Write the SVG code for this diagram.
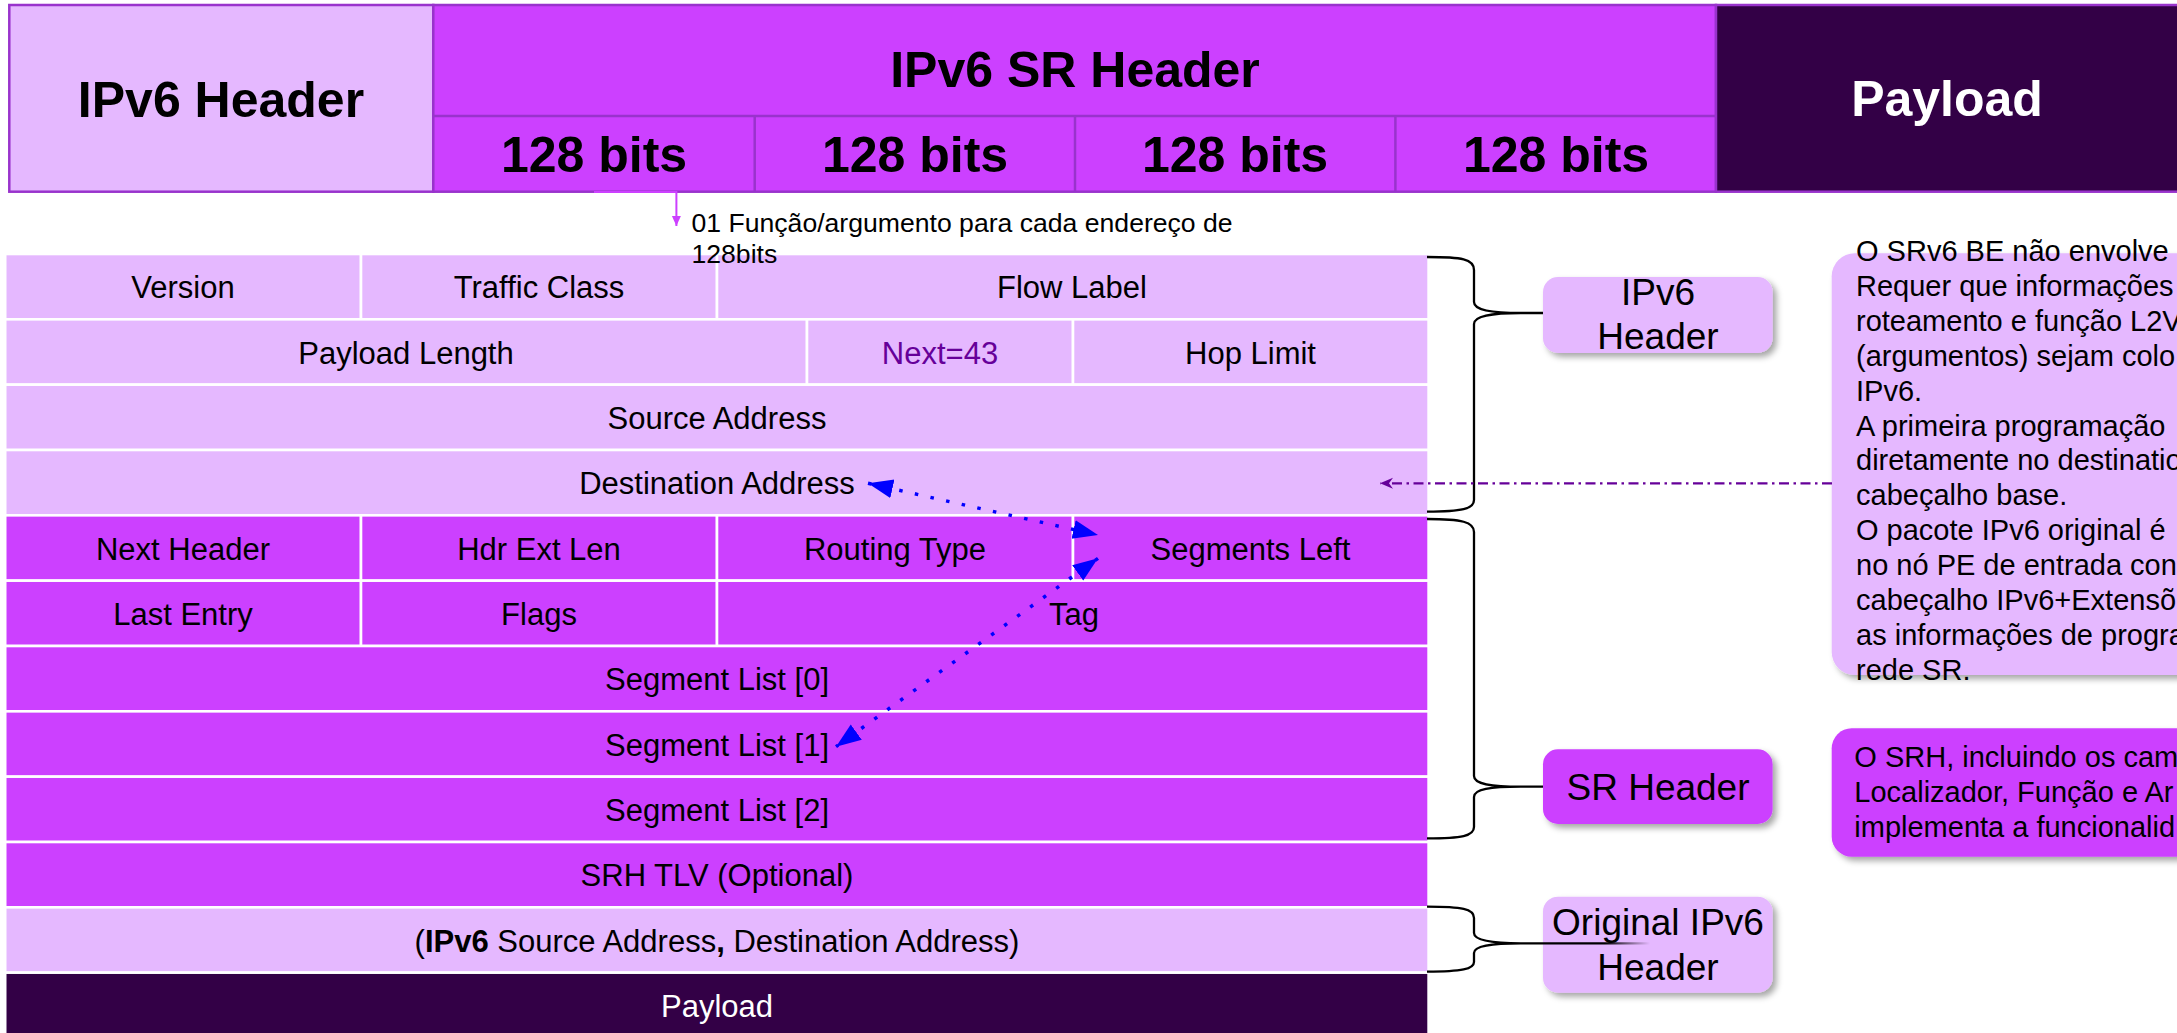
<svg xmlns="http://www.w3.org/2000/svg" width="2177" height="1033" viewBox="0 0 2177 1033">
  <defs>
    <style>
      text { font-family: "Liberation Sans", Arial, sans-serif; }
      .hd { font-size: 50px; font-weight: bold; text-anchor: middle; fill: #000; }
      .cell { stroke: #fff; stroke-width: 2.6; }
      .lt { fill: #E5B8FF; }
      .mg { fill: #CC40FF; }
      .dk { fill: #330046; }
      .ft { font-size: 31px; text-anchor: middle; fill: #000; }
      .lbl { font-size: 37px; text-anchor: middle; fill: #000; }
      .note { font-size: 29px; fill: #000; }
      .brace { fill: none; stroke: #000; stroke-width: 2.3; }
      .frame { stroke: #9933CC; stroke-width: 2.5; }
      .blue { fill: none; stroke: #0000FF; stroke-width: 3.5; stroke-dasharray: 3.5 12.5; }
    </style>
    <filter id="shadow" x="-10%" y="-10%" width="130%" height="140%">
      <feDropShadow dx="4" dy="4" stdDeviation="3" flood-color="#000" flood-opacity="0.35"/>
    </filter>
    <marker id="blueHead" markerUnits="userSpaceOnUse" markerWidth="26" markerHeight="20" refX="25" refY="9.5" orient="auto-start-reverse">
      <path d="M0,0 L25,9.5 L0,19 Z" fill="#0000FF"/>
    </marker>
    <marker id="purpleHead" markerUnits="userSpaceOnUse" markerWidth="14" markerHeight="12" refX="13" refY="5.5" orient="auto">
      <path d="M0,0 L13,5.5 L0,11 L4,5.5 Z" fill="#660099"/>
    </marker>
    <marker id="magentaHead" markerUnits="userSpaceOnUse" markerWidth="10" markerHeight="10" refX="10" refY="4.5" orient="auto">
      <path d="M0,0 L10,4.5 L0,9 Z" fill="#CC40FF"/>
    </marker>
    <linearGradient id="fadeLine" gradientUnits="userSpaceOnUse" x1="1521" y1="0" x2="1650" y2="0">
      <stop offset="0" stop-color="#000"/>
      <stop offset="0.65" stop-color="#000"/>
      <stop offset="1" stop-color="#000" stop-opacity="0"/>
    </linearGradient>
  </defs>

  <rect width="2177" height="1033" fill="#fff"/>

  <!-- Packet overview bar -->
  <g id="bar-ipv6-header">
    <rect class="frame lt" x="9.3" y="5" width="424" height="186.7"/>
    <text class="hd" x="221" y="117">IPv6 Header</text>
  </g>
  <g id="bar-srh">
    <rect class="frame mg" x="433.3" y="5" width="1282.7" height="186.7"/>
    <line class="frame" x1="433.3" y1="116" x2="1716" y2="116"/>
    <line class="frame" x1="754.7" y1="116" x2="754.7" y2="191.7"/>
    <line class="frame" x1="1075" y1="116" x2="1075" y2="191.7"/>
    <line class="frame" x1="1395.4" y1="116" x2="1395.4" y2="191.7"/>
    <text class="hd" x="1075" y="87">IPv6 SR Header</text>
    <text class="hd" x="594" y="172">128 bits</text>
    <text class="hd" x="915" y="172">128 bits</text>
    <text class="hd" x="1235" y="172">128 bits</text>
    <text class="hd" x="1556" y="172">128 bits</text>
  </g>
  <g id="bar-payload">
    <rect class="frame dk" x="1716" y="5" width="470" height="186.7"/>
    <text class="hd" x="1947" y="116" style="fill:#fff">Payload</text>
  </g>

  <!-- Header layout table -->
  <g id="row-0">
    <rect class="cell lt" x="5.2" y="254" width="355.8" height="65.33"/>
    <rect class="cell lt" x="361" y="254" width="356" height="65.33"/>
    <rect class="cell lt" x="717" y="254" width="711.6" height="65.33"/>
    <text class="ft" x="183" y="298.2">Version</text>
    <text class="ft" x="539" y="298.2">Traffic Class</text>
    <text class="ft" x="1072" y="298.2">Flow Label</text>
  </g>
  <g id="row-1">
    <rect class="cell lt" x="5.2" y="319.33" width="801.8" height="65.33"/>
    <rect class="cell lt" x="807" y="319.33" width="266" height="65.33"/>
    <rect class="cell lt" x="1073" y="319.33" width="355.6" height="65.33"/>
    <text class="ft" x="406" y="363.5">Payload Length</text>
    <text class="ft" x="940" y="363.5" style="fill:#660099">Next=43</text>
    <text class="ft" x="1250.5" y="363.5">Hop Limit</text>
  </g>
  <g id="row-2">
    <rect class="cell lt" x="5.2" y="384.67" width="1423.4" height="65.33"/>
    <text class="ft" x="717" y="428.9">Source Address</text>
  </g>
  <g id="row-3">
    <rect class="cell lt" x="5.2" y="450" width="1423.4" height="65.33"/>
    <text class="ft" x="717" y="494.2">Destination Address</text>
  </g>
  <g id="row-4">
    <rect class="cell mg" x="5.2" y="515.33" width="355.8" height="65.33"/>
    <rect class="cell mg" x="361" y="515.33" width="356" height="65.33"/>
    <rect class="cell mg" x="717" y="515.33" width="356" height="65.33"/>
    <rect class="cell mg" x="1073" y="515.33" width="355.6" height="65.33"/>
    <text class="ft" x="183" y="559.5">Next Header</text>
    <text class="ft" x="539" y="559.5">Hdr Ext Len</text>
    <text class="ft" x="895" y="559.5">Routing Type</text>
    <text class="ft" x="1250.5" y="559.5">Segments Left</text>
  </g>
  <g id="row-5">
    <rect class="cell mg" x="5.2" y="580.67" width="355.8" height="65.33"/>
    <rect class="cell mg" x="361" y="580.67" width="356" height="65.33"/>
    <rect class="cell mg" x="717" y="580.67" width="711.6" height="65.33"/>
    <text class="ft" x="183" y="624.9">Last Entry</text>
    <text class="ft" x="539" y="624.9">Flags</text>
    <text class="ft" x="1074" y="624.9">Tag</text>
  </g>
  <g id="row-6">
    <rect class="cell mg" x="5.2" y="646" width="1423.4" height="65.33"/>
    <text class="ft" x="717" y="690.2">Segment List [0]</text>
  </g>
  <g id="row-7">
    <rect class="cell mg" x="5.2" y="711.33" width="1423.4" height="65.33"/>
    <text class="ft" x="717" y="755.5">Segment List [1]</text>
  </g>
  <g id="row-8">
    <rect class="cell mg" x="5.2" y="776.67" width="1423.4" height="65.33"/>
    <text class="ft" x="717" y="820.8">Segment List [2]</text>
  </g>
  <g id="row-9">
    <rect class="cell mg" x="5.2" y="842" width="1423.4" height="65.33"/>
    <text class="ft" x="717" y="886.2">SRH TLV (Optional)</text>
  </g>
  <g id="row-10">
    <rect class="cell lt" x="5.2" y="907.33" width="1423.4" height="65.33"/>
    <text class="ft" x="717" y="951.5">(<tspan font-weight="bold">IPv6</tspan> Source Address<tspan font-weight="bold">,</tspan> Destination Address)</text>
  </g>
  <g id="row-11">
    <rect class="cell dk" x="5.2" y="972.67" width="1423.4" height="65.33"/>
    <text class="ft" x="717" y="1016.8" style="fill:#fff">Payload</text>
  </g>

  <!-- Note under the 128-bit blocks -->
  <g id="note-128bits">
    <text x="691.5" y="231.5" font-size="26.6">01 Função/argumento para cada endereço de</text>
    <text x="691.5" y="262.5" font-size="26.6">128bits</text>
  </g>

  <!-- Section labels -->
  <g id="label-ipv6-header">
    <rect x="1543" y="277" width="229.6" height="76" rx="15" class="lt" filter="url(#shadow)"/>
    <text class="lbl" x="1658" y="305">IPv6</text>
    <text class="lbl" x="1658" y="349">Header</text>
  </g>
  <g id="label-sr-header">
    <rect x="1543" y="749.3" width="229.6" height="74.7" rx="15" class="mg" filter="url(#shadow)"/>
    <text class="lbl" x="1658" y="800">SR Header</text>
  </g>
  <g id="label-original-header">
    <rect x="1543" y="896.7" width="229.6" height="96" rx="15" class="lt" filter="url(#shadow)"/>
    <text class="lbl" x="1658" y="935">Original IPv6</text>
    <text class="lbl" x="1658" y="980">Header</text>
  </g>

  <!-- Explanation boxes -->
  <g id="note-srv6-be">
    <rect x="1831.7" y="253.3" width="400" height="421.7" rx="23" class="lt" filter="url(#shadow)"/>
    <text class="note" x="1856" y="261">O SRv6 BE não envolve</text>
    <text class="note" x="1856" y="295.9">Requer que informações</text>
    <text class="note" x="1856" y="330.8">roteamento e função L2V</text>
    <text class="note" x="1856" y="365.7">(argumentos) sejam colo</text>
    <text class="note" x="1856" y="400.6">IPv6.</text>
    <text class="note" x="1856" y="435.5">A primeira programação</text>
    <text class="note" x="1856" y="470.4">diretamente no destinatio</text>
    <text class="note" x="1856" y="505.3">cabeçalho base.</text>
    <text class="note" x="1856" y="540.2">O pacote IPv6 original é</text>
    <text class="note" x="1856" y="575.1">no nó PE de entrada con</text>
    <text class="note" x="1856" y="610">cabeçalho IPv6+Extensõ</text>
    <text class="note" x="1856" y="644.9">as informações de progra</text>
    <text class="note" x="1856" y="679.8">rede SR.</text>
  </g>
  <g id="note-srh">
    <rect x="1831.7" y="728.3" width="400" height="128.4" rx="20" class="mg" filter="url(#shadow)"/>
    <text class="note" x="1854.3" y="766.7">O SRH, incluindo os cam</text>
    <text class="note" x="1854.3" y="801.7">Localizador, Função e Ar</text>
    <text class="note" x="1854.3" y="836.7">implementa a funcionalid</text>
  </g>

  <!-- Connectors: braces, pointers and arrows -->
  <g id="connectors">
    <path class="brace" d="M1427,257 C1462,257 1474,259 1474,270 L1474,302 C1474,310 1490,313 1521,313 L1543,313 M1521,313 C1490,313 1474,316 1474,324 L1474,500 C1474,509 1462,511.7 1427,511.7"/>
    <path class="brace" d="M1427,519 C1462,519 1474,522 1474,532 L1474,776 C1474,784 1490,786.7 1521,786.7 L1543,786.7 M1521,786.7 C1490,786.7 1474,789 1474,797 L1474,827 C1474,836 1462,838.3 1427,838.3"/>
    <path class="brace" d="M1427,906.7 C1462,906.7 1474,909 1474,918 L1474,933 C1474,940 1490,943.3 1521,943.3 M1521,943.3 C1490,943.3 1474,946 1474,953 L1474,962 C1474,969 1462,971.7 1427,971.7"/>
    <line x1="1521" y1="943.3" x2="1650" y2="943.3" stroke="url(#fadeLine)" stroke-width="2.3"/>

    <path d="M594,192 H676.4 V226" fill="none" stroke="#CC40FF" stroke-width="2" marker-end="url(#magentaHead)"/>

    <path d="M1832,483.3 L1380,483.3" fill="none" stroke="#660099" stroke-width="2.2" stroke-dasharray="10 4.5 2.5 4.5" marker-end="url(#purpleHead)"/>

    <path class="blue" d="M868,483.3 L1098,535" marker-start="url(#blueHead)" marker-end="url(#blueHead)"/>
    <path class="blue" d="M1098,558.3 L836,746.7" marker-start="url(#blueHead)" marker-end="url(#blueHead)"/>
  </g>
</svg>
